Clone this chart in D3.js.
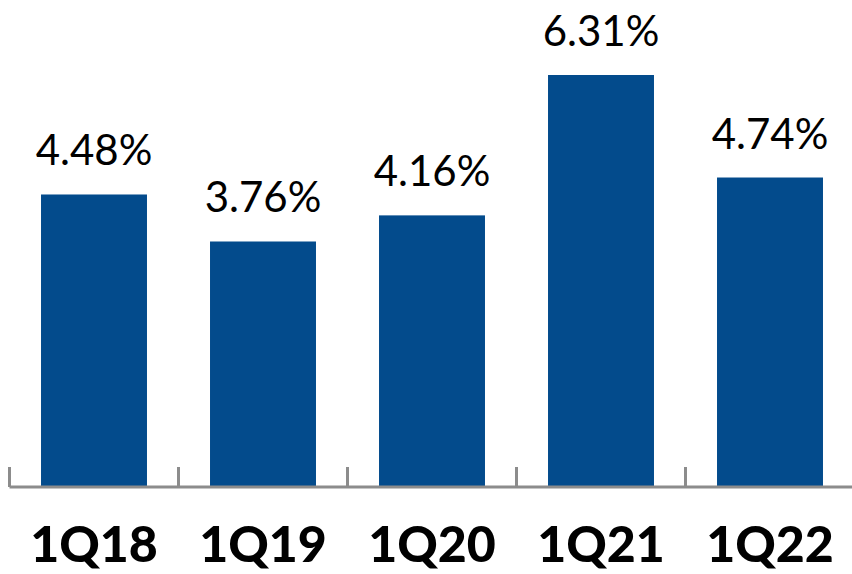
<!DOCTYPE html>
<html><head><meta charset="utf-8">
<script src="https://cdn.jsdelivr.net/npm/d3@7"></script>
<style>body{margin:0;background:#fff;}svg{display:block;}</style>
</head><body>
<svg id="c" width="852" height="574"></svg>
<script>
const categories = ["1Q18","1Q19","1Q20","1Q21","1Q22"];
const values = [4.48, 3.76, 4.16, 6.31, 4.74];
const valueLabels = ["4.48%","3.76%","4.16%","6.31%","4.74%"];

const svg = d3.select("#c");
const baseY = 487;
const x = d3.scaleBand().domain(categories).range([9.5, 854.5]).paddingInner(0.373).paddingOuter(0.1865);
const y = d3.scaleLinear().domain([0, 6.31]).range([baseY, 75]);

svg.selectAll("rect.bar").data(values).enter().append("rect")
  .attr("class","bar")
  .attr("x",(d,i)=>x(categories[i]))
  .attr("width",x.bandwidth())
  .attr("y",d=>y(d))
  .attr("height",d=>baseY-y(d))
  .attr("fill","#034b8c");

// axis
const axisG = svg.append("g");
axisG.append("line").attr("x1",9.5).attr("x2",852).attr("y1",baseY).attr("y2",baseY)
  .attr("stroke","#8c8c8c").attr("stroke-width",3);
const tickXs = d3.range(categories.length).map(i => x(categories[i]) - x.step()*x.paddingInner()/2);
axisG.selectAll("line.tick").data(tickXs).enter().append("line")
  .attr("x1",d=>d).attr("x2",d=>d).attr("y1",467).attr("y2",baseY)
  .attr("stroke","#8c8c8c").attr("stroke-width",3);

svg.selectAll("text.val").data(values).enter().append("text")
  .attr("x",(d,i)=>x(categories[i])+x.bandwidth()/2)
  .attr("y",d=>y(d)-29)
  .attr("text-anchor","middle")
  .attr("font-family","Lato, 'Open Sans', sans-serif")
  .attr("font-size",42)
  .attr("fill","#000")
  .text((d,i)=>valueLabels[i]);

svg.selectAll("text.cat").data(categories).enter().append("text")
  .attr("x",d=>x(d)+x.bandwidth()/2)
  .attr("y",562)
  .attr("text-anchor","middle")
  .attr("font-family","Lato, 'Open Sans', sans-serif")
  .attr("font-weight","900")
  .attr("font-size",50)
  .attr("fill","#000")
  .text(d=>d);
</script>
</body></html>
